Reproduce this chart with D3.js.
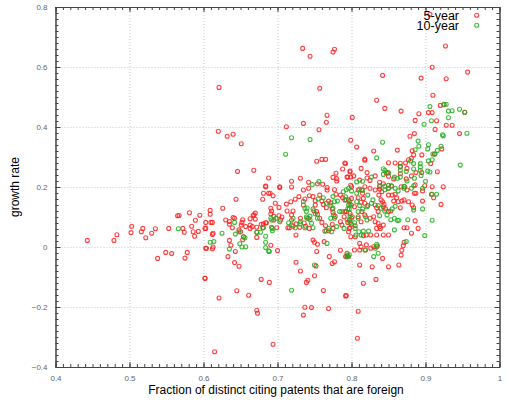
<!DOCTYPE html>
<html>
<head>
<meta charset="utf-8">
<script src="https://cdn.jsdelivr.net/npm/d3@7"></script>
<style>
  body { margin: 0; background: #fff; }
  svg { display: block; font-family: "Liberation Sans", Arial, sans-serif; }
  .grid line { stroke: #c8c8c8; stroke-dasharray: 1,2; }
  .grid path { display: none; }
  .frame path, .frame line { stroke: #444; }
  .frame text { fill: #666; font-size: 8px; }
</style>
</head>
<body>
<div id="chart"></div>
<script>
let width = 508;
let height = 401;

let xTicks = [0.4, 0.5, 0.6, 0.7, 0.8, 0.9, 1.0];
let yTicks = [-0.4, -0.2, 0, 0.2, 0.4, 0.6, 0.8];
let seriesNames = ["5-year", "10-year"];
let seriesColors = ["#ff2020", "#20b020"];

// 5-year growth points [fraction foreign, growth rate]
let fiveYear = [
  [0.734,0.662],[0.744,0.636],[0.777,0.659],[0.775,0.650],[0.621,0.532],[0.757,0.529],[0.767,0.439],[0.766,0.416],
  [0.735,0.412],[0.712,0.401],[0.756,0.391],[0.620,0.386],[0.632,0.369],[0.640,0.376],[0.651,0.344],[0.753,0.286],
  [0.760,0.292],[0.765,0.292],[0.792,0.278],[0.788,0.260],[0.779,0.246],[0.798,0.251],[0.775,0.232],[0.780,0.228],
  [0.780,0.220],[0.794,0.233],[0.646,0.252],[0.668,0.256],[0.688,0.230],[0.684,0.203],[0.703,0.201],[0.719,0.219],
  [0.731,0.229],[0.742,0.216],[0.754,0.211],[0.761,0.209],[0.719,0.200],
  [0.906,0.776],[0.927,0.670],[0.909,0.599],[0.842,0.572],[0.894,0.563],[0.928,0.561],[0.957,0.583],[0.910,0.506],
  [0.834,0.489],[0.845,0.462],[0.867,0.453],[0.801,0.432],[0.891,0.444],[0.904,0.448],[0.909,0.448],[0.920,0.472],
  [0.925,0.474],[0.915,0.421],[0.886,0.422],[0.928,0.406],[0.936,0.406],[0.913,0.392],[0.946,0.378],[0.879,0.369],
  [0.885,0.378],[0.799,0.356],[0.807,0.333],[0.830,0.320],[0.862,0.323],[0.882,0.321],[0.884,0.307],[0.818,0.293],
  [0.818,0.289],[0.881,0.296],[0.877,0.291],[0.895,0.307],[0.922,0.327],[0.912,0.310],[0.850,0.281],[0.859,0.280],
  [0.866,0.279],[0.873,0.280],[0.849,0.248],[0.847,0.247],[0.866,0.267],[0.875,0.262],[0.866,0.244],[0.791,0.280],
  [0.798,0.253],[0.813,0.262],[0.821,0.248],[0.821,0.230],[0.795,0.233],[0.799,0.233],[0.803,0.237],[0.811,0.223],
  [0.825,0.222],[0.832,0.237],[0.838,0.216],[0.843,0.211],[0.850,0.236],[0.850,0.206],[0.857,0.227],[0.874,0.227],
  [0.881,0.237],[0.887,0.248],[0.895,0.248],[0.907,0.278],[0.916,0.251],[0.953,0.449],[0.799,0.206],
  [0.443,0.022],[0.479,0.022],[0.483,0.041],[0.503,0.069],[0.502,0.048],[0.516,0.051],[0.518,0.062],[0.522,0.031],
  [0.530,0.046],[0.535,0.061],[0.553,0.062],[0.565,0.104],[0.567,0.105],[0.572,0.062],[0.574,0.049],[0.581,0.114],
  [0.584,0.069],[0.586,0.051],[0.588,0.036],[0.589,0.089],[0.593,0.052],[0.595,0.106],[0.603,0.082],[0.603,0.062],
  [0.538,-0.038],[0.549,-0.018],[0.557,-0.022],[0.575,-0.037],[0.578,-0.018],[0.603,-0.004],[0.602,-0.104],
  [0.684,0.201],[0.703,0.198],[0.681,0.179],[0.688,0.179],[0.690,0.179],[0.644,0.159],[0.680,0.159],[0.694,0.171],
  [0.697,0.146],[0.609,0.122],[0.609,0.109],[0.626,0.129],[0.602,0.062],[0.610,0.082],[0.612,0.082],[0.613,0.046],
  [0.612,0.042],[0.613,0.000],[0.612,-0.006],[0.604,-0.004],[0.630,0.090],[0.635,0.085],[0.635,0.076],[0.640,0.098],
  [0.642,0.096],[0.639,0.064],[0.653,0.091],[0.652,0.082],[0.651,0.073],[0.648,0.057],[0.650,0.051],[0.657,0.068],
  [0.654,0.034],[0.653,0.024],[0.635,0.022],[0.637,0.006],[0.643,-0.015],[0.663,0.094],[0.667,0.104],[0.670,0.113],
  [0.668,0.107],[0.670,0.093],[0.666,0.068],[0.663,0.062],[0.663,0.073],[0.672,0.066],[0.678,0.076],[0.681,0.077],
  [0.681,0.064],[0.672,0.032],[0.672,0.049],[0.684,0.081],[0.685,0.081],[0.691,0.129],[0.692,0.120],[0.691,0.111],
  [0.695,0.103],[0.695,0.090],[0.692,0.066],[0.691,0.006],[0.699,0.064],[0.702,0.104],[0.704,0.090],[0.706,0.100],
  [0.700,-0.012],[0.702,0.132],[0.712,0.143],[0.713,0.120],[0.718,0.151],[0.721,0.120],[0.719,0.107],[0.714,0.064],
  [0.716,0.064],[0.721,0.069],[0.724,0.159],[0.725,0.077],[0.725,0.040],[0.719,0.090],[0.729,0.168],[0.731,0.096],
  [0.735,0.140],[0.737,0.160],[0.735,0.190],[0.742,0.196],[0.743,0.171],[0.730,0.066],[0.736,0.080],[0.738,0.069],
  [0.742,0.096],[0.743,0.062],[0.748,0.168],[0.751,0.154],[0.751,0.140],[0.749,0.121],[0.753,0.118],[0.754,0.109],
  [0.748,0.023],[0.754,0.009],[0.753,-0.015],[0.750,0.016],[0.757,0.173],[0.760,0.153],[0.762,0.142],[0.766,0.131],
  [0.767,0.190],[0.767,0.198],[0.757,0.096],[0.760,0.082],[0.765,0.071],[0.764,0.053],[0.769,0.153],[0.772,0.147],
  [0.774,0.127],[0.775,0.116],[0.778,0.102],[0.774,0.076],[0.775,0.062],[0.769,0.054],[0.777,0.191],[0.779,0.176],
  [0.785,0.173],[0.788,0.164],[0.791,0.157],[0.785,0.084],[0.787,0.073],[0.791,0.118],[0.790,0.101],[0.797,0.089],
  [0.797,0.062],[0.796,0.051],[0.763,0.018],[0.770,-0.032],[0.774,-0.055],[0.777,-0.049],[0.785,-0.011],[0.792,-0.032],
  [0.796,-0.032],[0.725,-0.051],[0.731,-0.080],[0.750,-0.096],[0.741,-0.111],[0.739,-0.118],[0.752,-0.063],[0.762,-0.145],
  [0.793,-0.162],[0.737,-0.201],[0.746,-0.202],[0.769,-0.205],[0.735,-0.227],[0.678,-0.108],[0.689,-0.118],[0.645,-0.146],
  [0.661,-0.161],[0.621,-0.170],[0.672,-0.211],[0.673,-0.221],[0.602,-0.104],[0.642,-0.052],[0.648,-0.064],[0.633,-0.032],
  [0.694,-0.324],[0.615,-0.349],
  [0.800,0.201],[0.809,0.190],[0.814,0.190],[0.815,0.179],[0.818,0.201],[0.796,0.157],[0.798,0.142],[0.800,0.162],
  [0.804,0.134],[0.793,0.118],[0.798,0.112],[0.801,0.101],[0.795,0.082],[0.798,0.064],[0.800,0.076],[0.805,0.071],
  [0.799,0.034],[0.805,0.034],[0.813,0.149],[0.818,0.146],[0.822,0.138],[0.816,0.162],[0.809,0.164],[0.814,0.118],
  [0.818,0.107],[0.809,0.101],[0.813,0.084],[0.825,0.196],[0.832,0.190],[0.838,0.193],[0.841,0.184],[0.837,0.173],
  [0.840,0.157],[0.842,0.151],[0.844,0.142],[0.832,0.140],[0.834,0.131],[0.836,0.118],[0.825,0.096],[0.830,0.101],
  [0.832,0.084],[0.836,0.079],[0.834,0.062],[0.838,0.068],[0.843,0.073],[0.850,0.173],[0.855,0.173],[0.859,0.176],
  [0.861,0.164],[0.843,0.134],[0.846,0.127],[0.850,0.118],[0.853,0.120],[0.857,0.153],[0.863,0.151],[0.868,0.153],
  [0.866,0.131],[0.871,0.157],[0.877,0.151],[0.867,0.201],[0.872,0.201],[0.875,0.190],[0.886,0.207],[0.854,0.204],
  [0.850,0.196],[0.838,0.201],[0.882,0.140],[0.884,0.131],[0.887,0.179],[0.885,0.179],[0.896,0.187],[0.896,0.153],
  [0.908,0.176],[0.911,0.164],[0.921,0.142],[0.899,0.204],[0.909,0.201],[0.924,0.201],[0.886,0.087],[0.890,0.062],
  [0.881,0.046],[0.875,0.064],[0.871,0.064],[0.850,0.040],[0.843,0.040],[0.839,0.062],[0.834,0.040],[0.816,0.038],
  [0.820,0.040],[0.826,0.040],[0.811,0.012],[0.813,0.001],[0.811,-0.010],[0.820,0.007],[0.819,-0.010],[0.826,-0.004],
  [0.830,0.001],[0.834,0.001],[0.804,-0.010],[0.794,-0.021],[0.794,-0.032],[0.842,-0.038],[0.828,-0.066],[0.850,-0.066],
  [0.811,-0.060],[0.864,-0.060],[0.867,-0.027],[0.868,-0.011],[0.870,0.004],[0.871,0.016],[0.816,-0.121],[0.833,-0.108],
  [0.792,-0.163],[0.809,-0.214],[0.808,-0.304]
];

// 10-year growth points [fraction foreign, growth rate]
let tenYear = [
  [0.719,0.364],[0.744,0.358],[0.711,0.309],[0.756,0.218],[0.747,0.208],
  [0.928,0.476],[0.925,0.476],[0.906,0.468],[0.931,0.453],[0.936,0.454],[0.946,0.459],[0.953,0.449],[0.931,0.431],
  [0.908,0.421],[0.898,0.409],[0.923,0.374],[0.924,0.371],[0.956,0.379],[0.842,0.349],[0.890,0.353],[0.904,0.341],
  [0.921,0.336],[0.916,0.322],[0.903,0.327],[0.891,0.336],[0.913,0.310],[0.910,0.310],[0.834,0.297],[0.886,0.324],
  [0.904,0.287],[0.909,0.291],[0.947,0.273],[0.880,0.287],[0.884,0.278],[0.893,0.278],[0.893,0.267],[0.866,0.269],
  [0.866,0.256],[0.874,0.252],[0.884,0.260],[0.893,0.256],[0.903,0.253],[0.906,0.250],[0.843,0.261],[0.845,0.256],
  [0.843,0.242],[0.858,0.233],[0.850,0.247],[0.866,0.233],[0.862,0.229],[0.875,0.220],[0.885,0.229],[0.894,0.238],
  [0.900,0.219],[0.807,0.217],[0.815,0.219],[0.827,0.233],[0.845,0.203],[0.854,0.203],[0.871,0.202],[0.838,0.204],
  [0.566,0.061],
  [0.642,0.082],[0.625,0.046],[0.643,0.043],[0.609,0.016],[0.614,0.018],[0.635,-0.007],[0.649,0.011],[0.652,0.000],
  [0.657,0.001],[0.654,0.034],[0.656,0.031],[0.648,0.051],[0.672,0.049],[0.677,0.049],[0.680,0.064],[0.684,0.036],
  [0.684,0.016],[0.684,-0.002],[0.688,-0.013],[0.689,-0.015],[0.693,0.062],[0.693,0.054],[0.691,0.096],[0.692,0.090],
  [0.698,0.096],[0.703,0.084],[0.715,0.081],[0.719,0.073],[0.721,0.096],[0.724,0.064],[0.731,0.084],[0.731,0.077],
  [0.735,0.152],[0.737,0.129],[0.739,0.118],[0.740,0.096],[0.744,0.091],[0.744,0.103],[0.739,0.100],[0.740,0.130],
  [0.748,0.127],[0.751,0.111],[0.754,0.096],[0.746,0.079],[0.748,0.064],[0.737,0.064],[0.755,0.160],[0.762,0.164],
  [0.766,0.146],[0.772,0.138],[0.775,0.129],[0.776,0.107],[0.777,0.096],[0.772,0.096],[0.773,0.051],[0.766,0.054],
  [0.769,0.062],[0.775,0.168],[0.777,0.151],[0.781,0.153],[0.784,0.118],[0.787,0.118],[0.789,0.184],[0.793,0.191],
  [0.793,0.157],[0.796,0.140],[0.797,0.127],[0.780,0.068],[0.790,0.062],[0.794,-0.032],[0.797,-0.026],[0.750,-0.060],
  [0.767,0.012],[0.719,-0.144],
  [0.796,0.196],[0.800,0.187],[0.807,0.179],[0.811,0.193],[0.815,0.189],[0.792,0.167],[0.797,0.151],[0.800,0.140],
  [0.795,0.127],[0.798,0.104],[0.794,0.091],[0.798,0.082],[0.807,0.151],[0.811,0.138],[0.815,0.127],[0.809,0.118],
  [0.819,0.101],[0.821,0.090],[0.809,0.096],[0.805,0.062],[0.810,0.051],[0.816,0.053],[0.823,0.053],[0.806,0.040],
  [0.813,0.040],[0.800,0.096],[0.804,0.081],[0.821,0.134],[0.827,0.146],[0.822,0.173],[0.829,0.157],[0.836,0.138],
  [0.840,0.129],[0.845,0.120],[0.848,0.107],[0.850,0.196],[0.845,0.191],[0.859,0.196],[0.863,0.187],[0.871,0.196],
  [0.881,0.196],[0.884,0.204],[0.896,0.196],[0.838,0.104],[0.853,0.091],[0.858,0.096],[0.862,0.089],[0.864,0.089],
  [0.855,0.127],[0.859,0.136],[0.876,0.091],[0.884,0.123],[0.896,0.127],[0.858,0.057],[0.899,0.038],[0.909,0.176],
  [0.915,0.176],[0.909,0.089],[0.834,0.009],[0.835,0.004],[0.832,-0.004],[0.836,-0.021],[0.830,-0.032],[0.874,0.018],
  [0.818,-0.010],[0.794,-0.027]
];

let plotLeft = 55.5, plotRight = 499.5, plotTop = 7, plotBottom = 367;

let svg = d3.select("#chart")
    .append("svg")
    .attr("width", width)
    .attr("height", height);

let xScale = d3.scaleLinear().domain([0.4, 1.0]).range([plotLeft, plotRight]);
let yScale = d3.scaleLinear().domain([-0.4, 0.8]).range([plotBottom, plotTop]);

let xMinor = d3.range(40, 101).map(d => d / 100);
let yMinor = d3.range(-20, 41).map(d => d / 50);
let fmt = d => d === 1 ? "1" : d3.format("")(+d.toFixed(1));

// dotted grid at inner major ticks
svg.append("g")
    .attr("class", "grid")
    .attr("transform", "translate(0," + plotBottom + ")")
    .call(d3.axisBottom(xScale).tickValues(xTicks.slice(1, -1))
        .tickSize(-(plotBottom - plotTop)).tickFormat(""));
svg.append("g")
    .attr("class", "grid")
    .attr("transform", "translate(" + plotLeft + ",0)")
    .call(d3.axisLeft(yScale).tickValues(yTicks.slice(1, -1))
        .tickSize(-(plotRight - plotLeft)).tickFormat(""));

// minor ticks on all four sides, pointing inward
svg.append("g").attr("class", "frame")
    .attr("transform", "translate(0," + plotBottom + ")")
    .call(d3.axisBottom(xScale).tickValues(xMinor).tickSize(-3).tickFormat("").tickSizeOuter(0));
svg.append("g").attr("class", "frame")
    .attr("transform", "translate(0," + plotTop + ")")
    .call(d3.axisTop(xScale).tickValues(xMinor).tickSize(-3).tickFormat("").tickSizeOuter(0));
svg.append("g").attr("class", "frame")
    .attr("transform", "translate(" + plotLeft + ",0)")
    .call(d3.axisLeft(yScale).tickValues(yMinor).tickSize(-3).tickFormat("").tickSizeOuter(0));
svg.append("g").attr("class", "frame")
    .attr("transform", "translate(" + plotRight + ",0)")
    .call(d3.axisRight(yScale).tickValues(yMinor).tickSize(-3).tickFormat("").tickSizeOuter(0));

// major ticks with labels
svg.append("g").attr("class", "frame")
    .attr("transform", "translate(0," + plotBottom + ")")
    .call(d3.axisBottom(xScale).tickValues(xTicks).tickSize(-5).tickPadding(8).tickFormat(fmt).tickSizeOuter(0));
svg.append("g").attr("class", "frame")
    .attr("transform", "translate(0," + plotTop + ")")
    .call(d3.axisTop(xScale).tickValues(xTicks).tickSize(-5).tickFormat("").tickSizeOuter(0));
svg.append("g").attr("class", "frame")
    .attr("transform", "translate(" + plotLeft + ",0)")
    .call(d3.axisLeft(yScale).tickValues(yTicks).tickSize(-5).tickPadding(8).tickFormat(fmt).tickSizeOuter(0));
svg.append("g").attr("class", "frame")
    .attr("transform", "translate(" + plotRight + ",0)")
    .call(d3.axisRight(yScale).tickValues(yTicks).tickSize(-5).tickFormat("").tickSizeOuter(0));

// points
let series = [fiveYear, tenYear];
series.forEach((pts, i) => {
    svg.append("g")
        .selectAll("circle")
        .data(pts)
        .join("circle")
        .attr("cx", d => xScale(d[0]))
        .attr("cy", d => yScale(d[1]))
        .attr("r", 2)
        .attr("fill", "none")
        .attr("stroke", seriesColors[i])
        .attr("stroke-opacity", 0.85)
        .attr("stroke-width", 1.1);
});

// legend
seriesNames.forEach((name, i) => {
    svg.append("text")
        .attr("x", 459)
        .attr("y", 19.5 + i * 10)
        .attr("text-anchor", "end")
        .attr("font-size", "12.5px")
        .attr("fill", "#000")
        .text(name);
    svg.append("circle")
        .attr("cx", 476.7)
        .attr("cy", 15.3 + i * 10)
        .attr("r", 2)
        .attr("fill", "none")
        .attr("stroke", seriesColors[i])
        .attr("stroke-opacity", 0.85)
        .attr("stroke-width", 1.1);
});

// axis titles
svg.append("text")
    .attr("x", 276)
    .attr("y", 394)
    .attr("text-anchor", "middle")
    .attr("font-size", "12px")
    .text("Fraction of distinct citing patents that are foreign");

svg.append("text")
    .attr("text-anchor", "middle")
    .attr("font-size", "12px")
    .attr("transform", "translate(19," + 187 + ") rotate(-90)")
    .text("growth rate");
</script>
</body>
</html>
